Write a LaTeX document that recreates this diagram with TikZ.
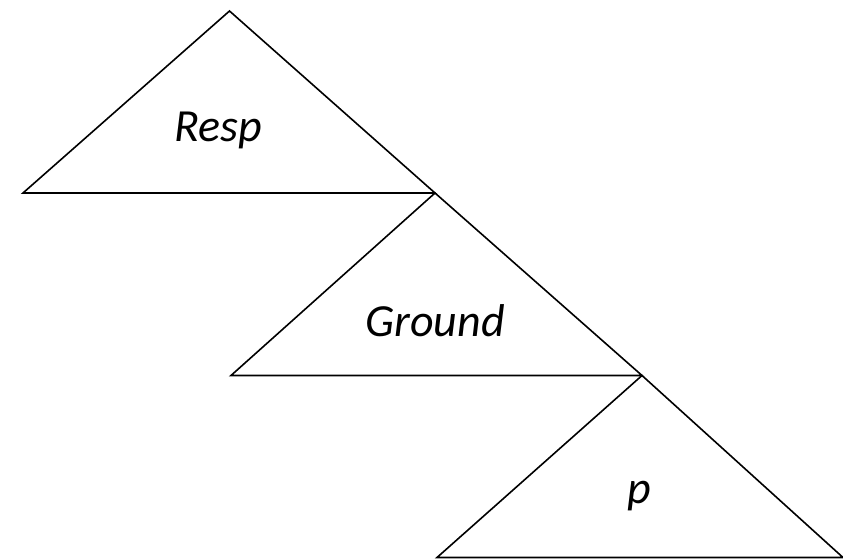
\documentclass[tikz,border=0pt]{standalone}
\usepackage{fontspec}
\setmainfont{Carlito}
\begin{document}
\begin{tikzpicture}[x=1pt,y=-1pt,
  tri/.style={draw=black,line width=1.6pt,line join=miter},
  lbl/.style={font=\fontsize{46}{55}\selectfont\itshape,anchor=base,inner sep=0pt}]
\useasboundingbox (0,0) rectangle (843,559);
\coordinate (a1) at (229.5,11);
\coordinate (l1) at (23,193);
\coordinate (r1) at (435,193);
\coordinate (l2) at (231,375.5);
\coordinate (r2) at (642,375.5);
\coordinate (l3) at (437,557.5);
\coordinate (r3) at (843,557.5);
\draw[tri] (a1) -- (l1) -- (r1) -- cycle;
\draw[tri] (r1) -- (l2) -- (r2) -- cycle;
\draw[tri] (r2) -- (l3) -- (r3) -- cycle;
\node[lbl] (resp) at (218,142) {Resp};
\node[lbl] (ground) at (435,336) {Ground};
\node[lbl] (p) at (639,503) {p};
\end{tikzpicture}
\end{document}
